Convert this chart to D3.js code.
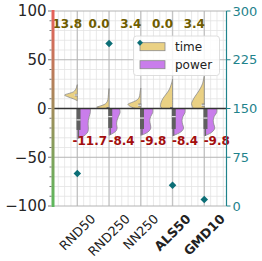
<!DOCTYPE html>
<html><head><meta charset="utf-8">
<script src="https://cdn.jsdelivr.net/npm/d3@7"></script>
<style>html,body{margin:0;padding:0;background:#fff;} svg{display:block;font-family:"DejaVu Sans",sans-serif;}</style>
</head><body>
<svg id="c" width="262" height="261"></svg>
<script>
// ---------- data ----------
const categories = ["RND50", "RND250", "NN250", "ALS50", "GMD10"];
const boldCategories = ["ALS50", "GMD10"];
const timeMedians = [13.8, 0.0, 3.4, 0.0, 3.4];
const powerMedians = [-11.7, -8.4, -9.8, -8.4, -9.8];
const runtimes = [50, 250, 250, 32, 10];
const leftTicks = [-100, -50, 0, 50, 100];
const rightTicks = [0, 75, 150, 225, 300];
const seriesNames = ["time", "power"];
// relative density profiles [value, density]
const timeDensity = [
  [[8,0],[10,0.31],[12,0.73],[13.8,0.98],[15.5,0.62],[17,0.31],[19,0.15],[21,0.08],[24.5,0]],
  [[0,0.69],[1.3,0.95],[2.5,0.69],[4,0.38],[6,0.19],[9,0.09],[14,0.05],[20.5,0]],
  [[0,0.38],[2,0.81],[4.4,0.98],[6,0.73],[8,0.38],[10,0.19],[13,0.09],[17,0.05],[21,0]],
  [[0,0.81],[1.5,0.91],[4,0.92],[8,0.83],[12,0.65],[16,0.42],[20,0.23],[24,0.12],[27,0.05],[30,0]],
  [[0,0.85],[2,0.92],[5,0.98],[8,0.9],[12,0.73],[18,0.42],[22,0.25],[26,0.12],[30,0.05],[33,0]]
];
const powerDensity = [
  [[0,1],[-4,1],[-8,0.92],[-12,0.85],[-16,0.83],[-20,0.85],[-24,0.81],[-27,0.62],[-29,0.38],[-31,0]],
  [[0,0.81],[-4,0.85],[-8,0.73],[-12,0.62],[-16,0.58],[-20,0.62],[-23,0.54],[-26,0.23],[-27.5,0]],
  [[0,0.92],[-4,0.92],[-8,0.77],[-12,0.69],[-16,0.73],[-20,0.77],[-23,0.65],[-26,0.31],[-27.5,0]],
  [[0,0.96],[-4,0.96],[-8,0.81],[-12,0.73],[-16,0.77],[-20,0.85],[-23,0.73],[-26,0.38],[-28,0]],
  [[0,0.96],[-4,0.96],[-8,0.77],[-12,0.69],[-16,0.73],[-20,0.81],[-23,0.69],[-26,0.38],[-28,0]]
];
// inner boxes [q1, q3]
const timeBoxes = [[12.5,15],[0,1.5],[2,5],[0,1.5],[2,5]];
// [q3, q1, lower whisker]
const powerBoxes = [[-0.5,-22,-30],[-0.5,-20,-27],[-0.5,-21,-27],[-0.5,-21,-28],[-0.5,-21,-28]];

// ---------- layout ----------
const svg = d3.select("#c");
const L = 53.5, R = 226.5, T = 11, B = 206;
const x = d3.scaleLinear().domain([-0.75, 4.7]).range([L, R]);
const y = d3.scaleLinear().domain([-100, 100]).range([B, T]);
const y2 = d3.scaleLinear().domain([0, 300]).range([B, T]);
const w = d3.scaleLinear().domain([0, 1]).range([0, 13]);

const timeFill = "#ead184", powerFill = "#c97deb", teal = "#1f838c", tealDark = "#0c6e76";

// minor grid
const g = svg.append("g");
g.selectAll("line.mx").data(d3.range(-0.6, 4.7, 0.2).filter(v => Math.abs(v - Math.round(v)) > 0.05))
  .join("line").attr("x1", d => x(d)).attr("x2", d => x(d)).attr("y1", T).attr("y2", B)
  .attr("stroke", "#e3e3e3").attr("stroke-width", 0.8);
g.selectAll("line.my").data(d3.range(-90, 100, 10).filter(v => v % 50 !== 0))
  .join("line").attr("x1", L).attr("x2", R).attr("y1", d => y(d)).attr("y2", d => y(d))
  .attr("stroke", "#e3e3e3").attr("stroke-width", 0.8);
// major grid
g.selectAll("line.Mx").data(categories).join("line")
  .attr("x1", (d, i) => x(i)).attr("x2", (d, i) => x(i)).attr("y1", T).attr("y2", B)
  .attr("stroke", "#c4c4c4").attr("stroke-width", 1.4);
g.selectAll("line.My").data(leftTicks.filter(v => v !== 0)).join("line")
  .attr("x1", L).attr("x2", R).attr("y1", d => y(d)).attr("y2", d => y(d))
  .attr("stroke", "#b4b4b4").attr("stroke-width", 1);

// violins
categories.forEach((c, i) => {
  const cx = x(i);
  const ta = d3.area().curve(d3.curveCatmullRom).y(d => y(d[0])).x0(cx).x1(d => cx - w(d[1]));
  svg.append("path").attr("d", ta(timeDensity[i])).attr("fill", timeFill)
    .attr("stroke", "#8a8a8a").attr("stroke-width", 0.8);
  const pa = d3.area().curve(d3.curveCatmullRom).y(d => y(d[0])).x0(cx).x1(d => cx + w(d[1]));
  svg.append("path").attr("d", pa(powerDensity[i])).attr("fill", powerFill)
    .attr("stroke", "#8a8a8a").attr("stroke-width", 0.8);
  // time inner box
  svg.append("rect").attr("x", cx - 2.5).attr("width", 3).attr("y", y(timeBoxes[i][1]))
    .attr("height", Math.max(1.5, y(timeBoxes[i][0]) - y(timeBoxes[i][1]))).attr("fill", "#777");
  svg.append("line").attr("x1", cx - 3).attr("x2", cx + 0.5).attr("y1", y(timeMedians[i])).attr("y2", y(timeMedians[i]))
    .attr("stroke", "#fff").attr("stroke-width", 1);
  // power inner box
  const pb = powerBoxes[i];
  svg.append("line").attr("x1", cx + 1.2).attr("x2", cx + 1.2).attr("y1", y(pb[1])).attr("y2", y(pb[2]))
    .attr("stroke", "#666").attr("stroke-width", 1.2);
  svg.append("rect").attr("x", cx - 0.8).attr("width", 4).attr("y", y(pb[0]))
    .attr("height", y(pb[1]) - y(pb[0])).attr("fill", "#5f5f5f");
  svg.append("line").attr("x1", cx - 0.8).attr("x2", cx + 3.2).attr("y1", y(powerMedians[i])).attr("y2", y(powerMedians[i]))
    .attr("stroke", "#fff").attr("stroke-width", 1);
});

// zero line
svg.append("line").attr("x1", L).attr("x2", R).attr("y1", y(0)).attr("y2", y(0))
  .attr("stroke", "#333").attr("stroke-width", 1.3);

// runtime diamonds
svg.selectAll("path.dia").data(runtimes).join("path")
  .attr("d", d3.symbol(d3.symbolDiamond2, 36))
  .attr("transform", (d, i) => `translate(${x(i)},${y2(d)})`)
  .attr("fill", tealDark);

// value labels
svg.selectAll("text.tm").data(timeMedians).join("text")
  .attr("x", (d, i) => x(i) - 10).attr("y", 28.3).attr("text-anchor", "middle")
  .attr("font-size", 12).attr("font-weight", "bold").attr("fill", "#6e5c00")
  .text(d => d.toFixed(1));
svg.selectAll("text.pm").data(powerMedians).join("text")
  .attr("x", (d, i) => x(i) + 12.5).attr("y", 145).attr("text-anchor", "middle")
  .attr("font-size", 12).attr("font-weight", "bold").attr("fill", "#a30d0d")
  .text(d => d.toFixed(1));

// left axis gradient bar
const defs = svg.append("defs");
const lg = defs.append("linearGradient").attr("id", "lg").attr("x1", 0).attr("y1", 0).attr("x2", 0).attr("y2", 1);
lg.append("stop").attr("offset", "0%").attr("stop-color", "#e8605a");
lg.append("stop").attr("offset", "100%").attr("stop-color", "#5cb85c");
svg.append("rect").attr("x", L - 2).attr("y", T - 1).attr("width", 3).attr("height", B - T + 2).attr("fill", "url(#lg)");
// left ticks
svg.selectAll("line.lmin").data(d3.range(-100, 101, 10)).join("line")
  .attr("x1", d => d % 50 === 0 ? L - 5.5 : L - 4).attr("x2", L - 2).attr("y1", d => y(d)).attr("y2", d => y(d))
  .attr("stroke", "#555").attr("stroke-width", 0.8);
svg.selectAll("text.lt").data(leftTicks).join("text")
  .attr("x", L - 7).attr("y", d => y(d)).attr("dy", "0.36em").attr("text-anchor", "end")
  .attr("font-size", 15).attr("fill", "#262626")
  .text(d => d < 0 ? "\u2212" + Math.abs(d) : d);

// right axis
svg.append("line").attr("x1", R).attr("x2", R).attr("y1", T).attr("y2", B).attr("stroke", teal).attr("stroke-width", 1.2);
svg.selectAll("line.rt").data(rightTicks).join("line")
  .attr("x1", R).attr("x2", R + 4).attr("y1", d => y2(d)).attr("y2", d => y2(d))
  .attr("stroke", teal).attr("stroke-width", 1);
svg.selectAll("text.rt").data(rightTicks).join("text")
  .attr("x", R + 6).attr("y", d => y2(d)).attr("dy", "0.36em")
  .attr("font-size", 13).attr("fill", teal).text(d => d);

// x tick labels (rotated)
categories.forEach((c, i) => {
  const fs = 12.8;
  const t = svg.append("text").attr("font-size", fs).attr("fill", "#222")
    .attr("font-weight", boldCategories.includes(c) ? "bold" : "normal")
    .attr("text-anchor", "middle").attr("dominant-baseline", "central").text(c);
  const len = t.node().getComputedTextLength();
  const half = (len + fs * 0.8) / (2 * Math.SQRT2);
  const cx = x(i), cy = 213 + half;
  t.attr("x", cx).attr("y", cy).attr("transform", `rotate(-45,${cx},${cy})`);
});

// legend
const lgd = svg.append("g");
lgd.append("rect").attr("x", 133.5).attr("y", 36).attr("width", 86).attr("height", 39.5).attr("rx", 3)
  .attr("fill", "#fff").attr("fill-opacity", 0.85).attr("stroke", "#d6d6d6").attr("stroke-width", 0.8);
const fills = [timeFill, powerFill];
seriesNames.forEach((s, i) => {
  const yy = 42.7 + i * 18;
  lgd.append("rect").attr("x", 140).attr("y", yy).attr("width", 25).attr("height", 8)
    .attr("fill", fills[i]).attr("stroke", "#8a8a8a").attr("stroke-width", 0.8);
  lgd.append("text").attr("x", 175).attr("y", yy + 4).attr("dy", "0.36em")
    .attr("font-size", 12).attr("fill", "#222").text(s);
});
lgd.append("path").attr("d", d3.symbol(d3.symbolDiamond2, 22)).attr("transform", "translate(140,42.7)").attr("fill", tealDark);
</script>
</body></html>
